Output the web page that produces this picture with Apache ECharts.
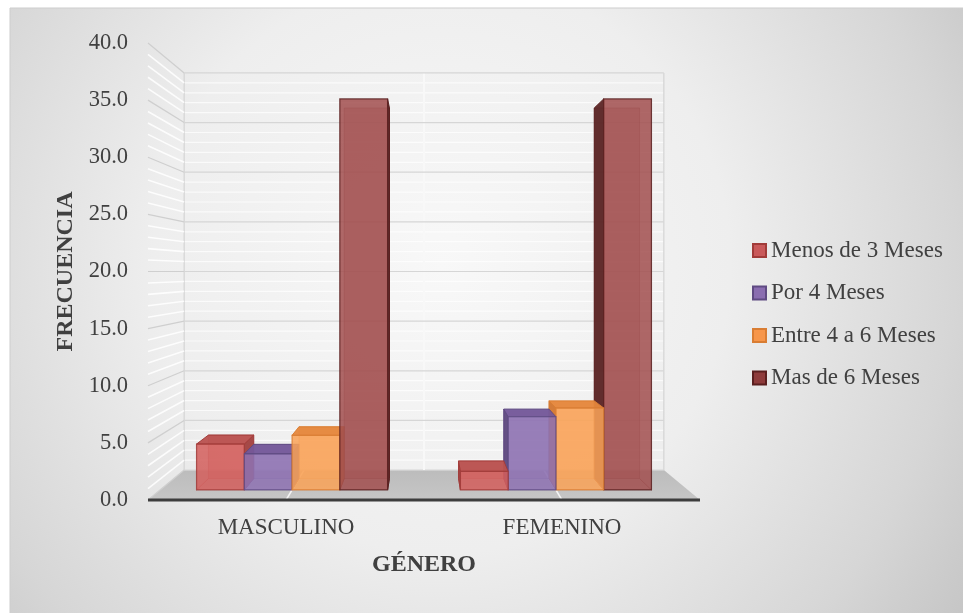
<!DOCTYPE html>
<html>
<head>
<meta charset="utf-8">
<title>Frecuencia por género</title>
<script src="https://cdn.jsdelivr.net/npm/echarts@6/dist/echarts.min.js"></script>
<style>
  html, body { margin: 0; padding: 0; background: #ffffff; }
  #chart { width: 963px; height: 613px; }
</style>
</head>
<body>
<div id="chart"></div>
<script>
// ---- data ----
const categories = ['MASCULINO', 'FEMENINO'];
const seriesNames = ['Menos de 3 Meses', 'Por 4 Meses', 'Entre 4 a 6 Meses', 'Mas de 6 Meses'];
const menosDe3Meses = [4.2, 1.7];
const por4Meses = [3.3, 6.7];
const entre4a6Meses = [5.0, 7.5];
const masDe6Meses = [35.8, 35.8];
const seriesValues = [menosDe3Meses, por4Meses, entre4a6Meses, masDe6Meses];
const yMin = 0, yMax = 40, yStep = 5, yMinorStep = 1;

// ---- look ----
const FONT = '"Liberation Serif", "Times New Roman", serif';
const TEXT = '#404040';
const palette = [
  { legend: '#c9595a', front: '#d35e5c', top: '#b9514f', side: '#a24240', edge: '#a13b39' },
  { legend: '#8a6db0', front: '#8e72b2', top: '#74599a', side: '#5f4a80', edge: '#5f4a82' },
  { legend: '#f7964a', front: '#f9a359', top: '#e5873c', side: '#d27731', edge: '#d97d33' },
  { legend: '#8e3b3b', front: '#a24f4f', top: '#7d3333', side: '#5b2525', edge: '#5a1f1f' }
];

// perspective set-up: eye height on the value axis and depth scale factors
const EYE_VALUE = 20;
const DEPTH = { floorFront: 1, floorBack: 0.869, barFront: 0.956, barBack: 0.906 };
const BAR_FRACTION = 0.181; // one bar's width as a share of the category band

function projector(api) {
  const a = api.coord([0, EYE_VALUE]);
  const b = api.coord([1, EYE_VALUE]);
  const vx = (a[0] + b[0]) / 2, vy = a[1];
  return {
    vx: vx, vy: vy,
    p: function (pt, f) { return [vx + (pt[0] - vx) * f, vy + (pt[1] - vy) * f]; }
  };
}

function seg(a, b, style, z2) {
  return { type: 'line', z2: z2, shape: { x1: a[0], y1: a[1], x2: b[0], y2: b[1] }, style: style, silent: true };
}
function poly(points, style, z2) {
  return { type: 'polygon', z2: z2, shape: { points: points }, style: style, silent: true };
}

// walls, floor and gridlines of the 3D box
function renderWalls(params, api) {
  const v = api.value(0);
  const cs = params.coordSys;
  const pr = projector(api);
  const p = pr.p;
  const L = cs.x, R = cs.x + cs.width;
  const y = api.coord([0, v])[1];
  const FB = DEPTH.floorBack;
  const major = v % yStep === 0;
  const kids = [];
  kids.push(seg(p([L, y], 1), p([L, y], FB),
    { stroke: major ? '#cfcfcf' : '#ffffff', lineWidth: major ? 1.2 : 1.6, opacity: major ? 1 : 0.85 }, 2));
  kids.push(seg(p([L, y], FB), p([R, y], FB),
    { stroke: major ? '#d6d6d6' : '#ffffff', lineWidth: 1.2, opacity: major ? 1 : 0.7 }, major ? 2 : 1));
  if (v === yMin) {
    const yTop = api.coord([0, yMax])[1];
    const catW = api.size([1, 0])[0];
    // floor
    kids.push(poly([p([L, y], 1), p([R, y], 1), p([R, y], FB), p([L, y], FB)], {
      fill: { type: 'linear', x: 0, y: 0, x2: 0, y2: 1, colorStops: [
        { offset: 0, color: '#bcbcbc' }, { offset: 1, color: '#c6c6c6' }] }
    }, 0));
    // floor lines at the category centres
    for (let c = 0; c < categories.length; c++) {
      const cx = api.coord([c, 0])[0];
      kids.push(seg(p([cx, y], 1), p([cx, y], FB), { stroke: '#f4f4f4', lineWidth: 1.5 }, 1));
    }
    // back wall verticals at the category boundaries
    const xs = [L];
    for (let c = 0; c < categories.length; c++) xs.push(api.coord([c, 0])[0] + catW / 2);
    xs.forEach(function (x, i) {
      kids.push(seg(p([x, y], FB), p([x, yTop], FB),
        { stroke: i === 1 ? '#f8f8f8' : '#d4d4d4', lineWidth: i === 1 ? 2 : 1.2 }, 2));
    });
    // front edge of the floor
    kids.push(seg(p([L, y], 1), p([R, y], 1), { stroke: '#3d3d3d', lineWidth: 3, lineCap: 'butt' }, 3));
  }
  return { type: 'group', children: kids };
}

// one 3D bar
function renderBar(k) {
  return function (params, api) {
    const cat = api.value(0), val = api.value(1);
    const pr = projector(api), p = pr.p;
    const catW = api.size([1, 0])[0];
    const bw = catW * BAR_FRACTION;
    const c = api.coord([cat, val]);
    const yB = api.coord([cat, 0])[1];
    const yT = c[1];
    const x0 = c[0] - 2 * bw + k * bw, x1 = x0 + bw;
    const F = DEPTH.barFront, B = DEPTH.barBack;
    const fTL = p([x0, yT], F), fTR = p([x1, yT], F), fBR = p([x1, yB], F), fBL = p([x0, yB], F);
    const bTL = p([x0, yT], B), bTR = p([x1, yT], B), bBR = p([x1, yB], B), bBL = p([x0, yB], B);
    const col = palette[k];
    const order = cat === 0 ? k : 3 - k;
    const z = 10 + order * 10;
    const kids = [];
    // back outline seen through the translucent faces
    const hidden = { stroke: col.edge, lineWidth: 1, opacity: 0.55 };
    kids.push(poly([bTL, bTR, bBR, bBL], { fill: col.front, opacity: 0.35, stroke: col.edge, lineWidth: 1 }, z));
    kids.push(seg(fBL, bBL, hidden, z + 1));
    kids.push(seg(fBR, bBR, hidden, z + 1));
    // visible side face
    if (x1 <= pr.vx) {
      kids.push(poly([fTR, bTR, bBR, fBR], { fill: col.side, stroke: col.edge, lineWidth: 1, opacity: 0.95 }, z + 2));
    } else if (x0 >= pr.vx) {
      kids.push(poly([fTL, bTL, bBL, fBL], { fill: col.side, stroke: col.edge, lineWidth: 1, opacity: 0.95 }, z + 2));
    }
    // top face when it is below the eye
    if (yT > pr.vy) {
      kids.push(poly([fTL, fTR, bTR, bTL], { fill: col.top, stroke: col.edge, lineWidth: 1, opacity: 0.95 }, z + 3));
    }
    // front face
    kids.push(poly([fTL, fTR, fBR, fBL], {
      fill: col.front, opacity: 0.86, stroke: col.edge, lineWidth: 1.2
    }, z + 4));
    return { type: 'group', children: kids };
  };
}

const gridValues = [];
for (let v = yMin; v <= yMax; v += yMinorStep) gridValues.push([v]);

const series = [{
  type: 'custom',
  name: 'walls',
  z: 1,
  silent: true,
  renderItem: renderWalls,
  encode: { y: 0 },
  data: gridValues
}];
seriesNames.forEach(function (name, k) {
  series.push({
    type: 'custom',
    name: name,
    z: 2,
    renderItem: renderBar(k),
    itemStyle: { color: palette[k].legend, borderColor: palette[k].edge, borderWidth: 1 },
    encode: { x: 0, y: 1 },
    data: seriesValues[k].map(function (v, i) { return [i, v]; })
  });
});

const chart = echarts.init(document.getElementById('chart'), null, { renderer: 'canvas' });
chart.setOption({
  animation: false,
  backgroundColor: '#ffffff',
  graphic: [{
    type: 'rect',
    z: -10,
    silent: true,
    shape: { x: 10, y: 8, width: 960, height: 610 },
    style: {
      fill: { type: 'radial', x: 0.45, y: 0.42, r: 1.05, colorStops: [
        { offset: 0, color: '#f8f8f8' },
        { offset: 0.45, color: '#eeeeee' },
        { offset: 0.8, color: '#d6d6d6' },
        { offset: 1, color: '#c4c4c4' }] },
      stroke: '#cdcdcd', lineWidth: 1
    }
  }],
  grid: { left: 148, right: 263, top: 43, bottom: 113, containLabel: false },
  xAxis: {
    type: 'category',
    data: categories,
    boundaryGap: true,
    axisLine: { show: false },
    axisTick: { show: false },
    axisLabel: { fontFamily: FONT, fontSize: 23, color: TEXT, margin: 16 },
    name: 'GÉNERO',
    nameLocation: 'middle',
    nameGap: 53,
    nameTextStyle: { fontFamily: FONT, fontSize: 24, fontWeight: 'bold', color: TEXT }
  },
  yAxis: {
    type: 'value',
    min: yMin, max: yMax, interval: yStep,
    axisLine: { show: false },
    axisTick: { show: false },
    splitLine: { show: false },
    axisLabel: { fontFamily: FONT, fontSize: 22.5, color: TEXT, margin: 20,
      formatter: function (v) { return v.toFixed(1); } },
    name: 'FRECUENCIA',
    nameLocation: 'middle',
    nameRotate: 90,
    nameGap: 68,
    nameTextStyle: { fontFamily: FONT, fontSize: 24, fontWeight: 'bold', color: TEXT }
  },
  legend: {
    orient: 'vertical',
    left: 747,
    top: 234,
    itemWidth: 13,
    itemHeight: 13,
    itemGap: 19.5,
    icon: 'rect',
    data: seriesNames,
    textStyle: { fontFamily: FONT, fontSize: 23, color: TEXT }
  },
  series: series
});
</script>
</body>
</html>
